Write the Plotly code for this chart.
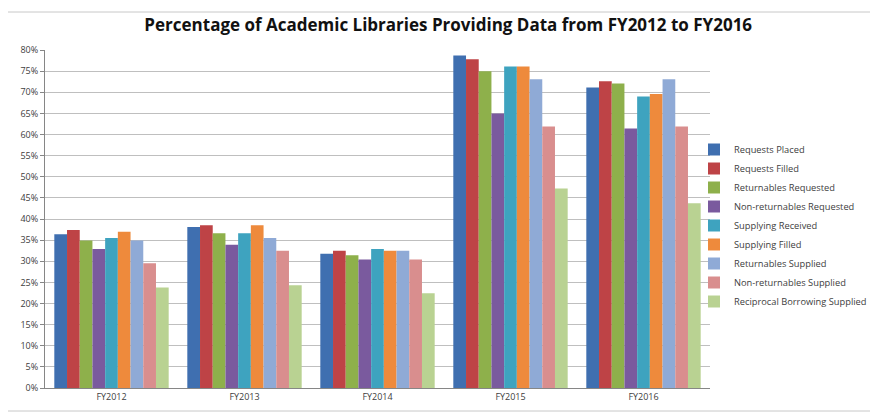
import plotly.graph_objects as go

years = ["FY2012", "FY2013", "FY2014", "FY2015", "FY2016"]
series_names = [
    "Requests Placed", "Requests Filled", "Returnables Requested",
    "Non-returnables Requested", "Supplying Received", "Supplying Filled",
    "Returnables Supplied", "Non-returnables Supplied", "Reciprocal Borrowing Supplied",
]
requests_placed = [36.4, 38.1, 31.8, 78.7, 71.1]
requests_filled = [37.4, 38.5, 32.5, 77.8, 72.6]
returnables_requested = [34.9, 36.6, 31.4, 75.0, 72.1]
nonreturnables_requested = [32.9, 33.9, 30.4, 65.0, 61.4]
supplying_received = [35.5, 36.6, 32.9, 76.1, 69.0]
supplying_filled = [37.0, 38.5, 32.5, 76.1, 69.6]
returnables_supplied = [34.9, 35.5, 32.5, 73.1, 73.1]
nonreturnables_supplied = [29.5, 32.5, 30.4, 61.9, 61.9]
reciprocal_supplied = [23.8, 24.3, 22.4, 47.2, 43.7]

series_values = [
    requests_placed, requests_filled, returnables_requested,
    nonreturnables_requested, supplying_received, supplying_filled,
    returnables_supplied, nonreturnables_supplied, reciprocal_supplied,
]
colors = ["#3F6FB0", "#BE4346", "#8EB04B", "#7A5A9E", "#3EA3BF",
          "#EE8A3C", "#8FAAD6", "#D98E8E", "#B9D292"]

fig = go.Figure()
for name, vals, c in zip(series_names, series_values, colors):
    fig.add_trace(go.Bar(x=years, y=[v / 100 for v in vals], name=name,
                         marker=dict(color=c, line=dict(width=0))))

# page has an 8px body margin; figure sized/offset to compensate
W, H = 870, 407
L, T, R, B = 37, 42, 168, 27
pw, ph = W - L - R, H - T - B

fig.update_layout(
    width=W, height=H,
    barmode="group", bargap=0.14, bargroupgap=0,
    paper_bgcolor="white", plot_bgcolor="white",
    margin=dict(l=L, r=R, t=T, b=B, autoexpand=False),
    font=dict(family="Open Sans, sans-serif", size=9, color="#404040"),
    title=dict(text="<b>Percentage of Academic Libraries Providing Data from FY2012 to FY2016</b>",
               x=0.506, xanchor="center", y=0.958, yanchor="middle",
               font=dict(size=17, color="#111111", family="Open Sans, sans-serif")),
    legend=dict(xref="container", yref="container",
                x=686 / W, y=1 - 127 / H, xanchor="left", yanchor="top",
                bgcolor="rgba(0,0,0,0)",
                font=dict(size=9.3, color="#404040"), tracegroupgap=0),
    showlegend=True,
)
fig.update_yaxes(range=[0, 0.8], dtick=0.05, tickformat=".0%",
                 showgrid=True, gridcolor="#BFBFBF", gridwidth=1,
                 showline=True, linecolor="#868686", ticks="outside", ticklen=4,
                 tickcolor="#868686", zeroline=False)
fig.update_xaxes(showline=True, linecolor="#868686", ticks="", showgrid=False)
fig.add_shape(type="rect", xref="paper", yref="paper",
              x0=(-4 - L) / pw, x1=(866 - L) / pw, y0=-(B - 4) / ph, y1=1 + (T - 4) / ph,
              line=dict(color="#C8C8C8", width=1))

fig.write_html("out.html")
